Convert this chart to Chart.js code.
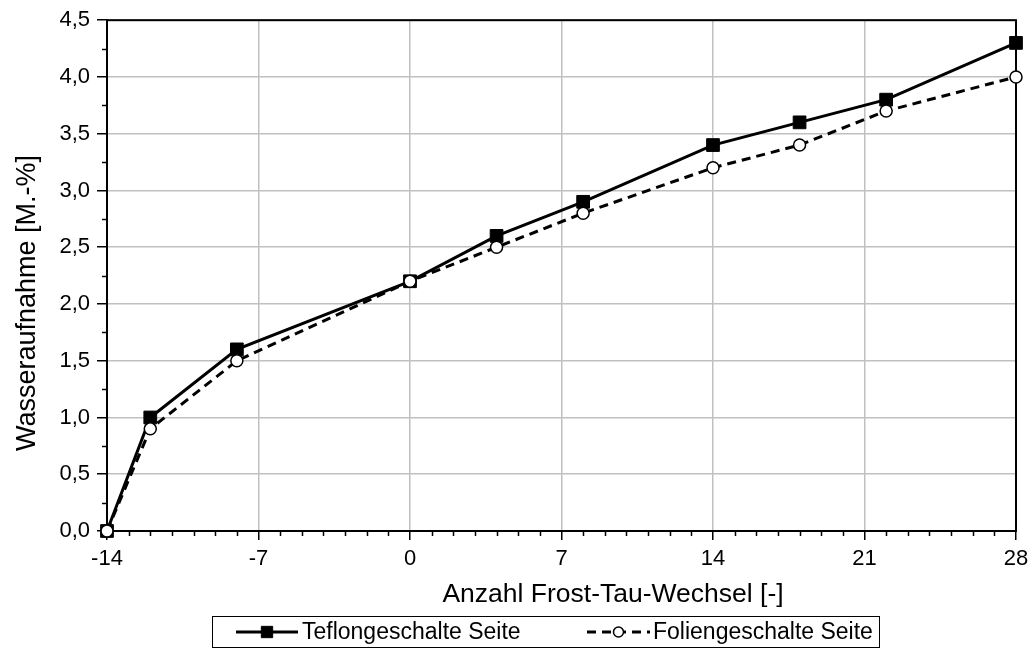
<!DOCTYPE html>
<html lang="de">
<head>
<meta charset="utf-8">
<title>Wasseraufnahme</title>
<script src="https://cdn.jsdelivr.net/npm/chart.js@4.4.1/dist/chart.umd.min.js"></script>
<style>
  html, body { margin: 0; padding: 0; background: #fff; }
  #wrap { position: relative; width: 1035px; height: 652px; }
</style>
</head>
<body>
<div id="wrap"><canvas id="chart"></canvas></div>
<script>
const cycles = [-14, -12, -8, 0, 4, 8, 14, 18, 22, 28];
const teflonValues = [0.0, 1.0, 1.6, 2.2, 2.6, 2.9, 3.4, 3.6, 3.8, 4.3];
const folieValues = [0.0, 0.9, 1.5, 2.2, 2.5, 2.8, 3.2, 3.4, 3.7, 4.0];
const xTicks = [-14, -7, 0, 7, 14, 21, 28];
const yTicks = [0, 0.5, 1.0, 1.5, 2.0, 2.5, 3.0, 3.5, 4.0, 4.5];
const xTitle = "Anzahl Frost-Tau-Wechsel [-]";
const yTitle = "Wasseraufnahme [M.-%]";

const FONT = '"Liberation Sans", Arial, sans-serif';
const X_MINOR_STEP = 1;
const Y_MINOR_STEP = 0.25;

function toPoints(values) {
  return cycles.map((x, i) => ({ x, y: values[i] }));
}

function formatDecimal(value) {
  return value.toFixed(1).replace(".", ",");
}

// frame, minor ticks, axis titles and the boxed legend
const decorations = {
  id: "decorations",
  beforeDatasetsDraw(chart) {
    const { ctx, chartArea: a, scales } = chart;
    ctx.save();
    ctx.strokeStyle = "#000";
    ctx.lineWidth = 2;
    ctx.strokeRect(a.left, a.top, a.right - a.left, a.bottom - a.top);

    ctx.lineWidth = 1.5;
    ctx.beginPath();
    const xMin = xTicks[0];
    const xMax = xTicks[xTicks.length - 1];
    for (let v = xMin + X_MINOR_STEP; v < xMax; v += X_MINOR_STEP) {
      if (xTicks.includes(v)) continue;
      const px = Math.round(scales.x.getPixelForValue(v)) + 0.5;
      ctx.moveTo(px, a.bottom);
      ctx.lineTo(px, a.bottom + 5);
    }
    for (let v = Y_MINOR_STEP; v < yTicks[yTicks.length - 1]; v += 2 * Y_MINOR_STEP) {
      const py = Math.round(scales.y.getPixelForValue(v)) + 0.5;
      ctx.moveTo(a.left - 5, py);
      ctx.lineTo(a.left, py);
    }
    ctx.stroke();
    ctx.restore();
  },
  afterDraw(chart) {
    const { ctx } = chart;
    ctx.save();
    ctx.fillStyle = "#000";
    ctx.textAlign = "center";
    ctx.textBaseline = "alphabetic";
    ctx.font = `26.5px ${FONT}`;
    ctx.fillText(xTitle, 613, 602);

    ctx.save();
    ctx.font = `27px ${FONT}`;
    ctx.translate(35, 303);
    ctx.rotate(-Math.PI / 2);
    ctx.fillText(yTitle, 0, 0);
    ctx.restore();

    // legend box
    ctx.strokeStyle = "#000";
    ctx.lineWidth = 1;
    ctx.strokeRect(212.5, 616.5, 667, 31);

    const rowY = 632;
    const items = [
      { ds: chart.data.datasets[0], from: 236, to: 298, textX: 302 },
      { ds: chart.data.datasets[1], from: 587, to: 650, textX: 653 },
    ];
    ctx.font = `23px ${FONT}`;
    ctx.textAlign = "left";
    ctx.textBaseline = "middle";
    for (const item of items) {
      const ds = item.ds;
      ctx.save();
      ctx.strokeStyle = ds.borderColor;
      ctx.lineWidth = ds.borderWidth;
      ctx.setLineDash(ds.borderDash || []);
      ctx.beginPath();
      ctx.moveTo(item.from, rowY);
      ctx.lineTo(item.to, rowY);
      ctx.stroke();
      ctx.setLineDash([]);
      ctx.fillStyle = ds.pointBackgroundColor;
      ctx.strokeStyle = ds.pointBorderColor;
      ctx.lineWidth = ds.pointBorderWidth;
      Chart.helpers.drawPoint(
        ctx,
        {
          pointStyle: ds.pointStyle,
          radius: ds.legendRadius,
          rotation: 0,
          borderWidth: ds.pointBorderWidth,
        },
        (item.from + item.to) / 2,
        rowY
      );
      ctx.restore();
      ctx.fillStyle = "#000";
      ctx.fillText(ds.label, item.textX, rowY + 1);
    }
    ctx.restore();
  },
};

new Chart(document.getElementById("chart"), {
  type: "line",
  data: {
    datasets: [
      {
        label: "Teflongeschalte Seite",
        data: toPoints(teflonValues),
        borderColor: "#000",
        borderWidth: 3,
        pointStyle: "rect",
        pointRadius: 9,
        legendRadius: 8,
        pointBackgroundColor: "#000",
        pointBorderColor: "#000",
        pointBorderWidth: 1,
        tension: 0,
        clip: false,
        order: 2,
      },
      {
        label: "Foliengeschalte Seite",
        data: toPoints(folieValues),
        borderColor: "#000",
        borderWidth: 3,
        borderDash: [9, 6],
        pointStyle: "circle",
        pointRadius: 6,
        legendRadius: 5,
        pointBackgroundColor: "#fff",
        pointBorderColor: "#000",
        pointBorderWidth: 1.5,
        tension: 0,
        clip: false,
        order: 1,
      },
    ],
  },
  options: {
    responsive: true,
    maintainAspectRatio: false,
    animation: false,
    layout: { padding: { top: 19, right: 19, left: 0, bottom: 0 } },
    plugins: {
      legend: { display: false },
      tooltip: { enabled: false },
    },
    scales: {
      x: {
        type: "linear",
        min: xTicks[0],
        max: xTicks[xTicks.length - 1],
        afterBuildTicks: (scale) => {
          scale.ticks = xTicks.map((value) => ({ value }));
        },
        afterFit: (scale) => {
          scale.height = 121;
        },
        ticks: {
          color: "#000",
          font: { family: FONT, size: 22 },
          padding: 6,
          maxRotation: 0,
          autoSkip: false,
          callback: (value) => String(value),
        },
        grid: {
          color: "#c0c0c0",
          lineWidth: 1.5,
          tickColor: "#000",
          tickLength: 9,
          tickWidth: 1.5,
        },
        border: { color: "#000", width: 2 },
      },
      y: {
        type: "linear",
        min: yTicks[0],
        max: yTicks[yTicks.length - 1],
        afterBuildTicks: (scale) => {
          scale.ticks = yTicks.map((value) => ({ value }));
        },
        afterFit: (scale) => {
          scale.width = 107;
        },
        ticks: {
          color: "#000",
          font: { family: FONT, size: 22 },
          padding: 7,
          autoSkip: false,
          callback: (value) => formatDecimal(value),
        },
        grid: {
          color: "#c0c0c0",
          lineWidth: 1.5,
          tickColor: "#000",
          tickLength: 10,
          tickWidth: 1.5,
        },
        border: { color: "#000", width: 2 },
      },
    },
  },
  plugins: [decorations],
});
</script>
</body>
</html>
